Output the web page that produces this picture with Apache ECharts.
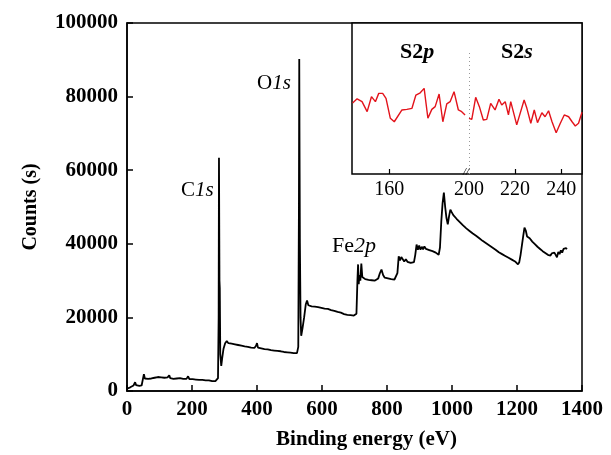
<!DOCTYPE html>
<html><head><meta charset="utf-8">
<script src="https://cdn.jsdelivr.net/npm/echarts@6/dist/echarts.min.js"></script>
<style>html,body{margin:0;padding:0;background:#fff}#c{width:611px;height:455px}</style>
</head><body><div id="c"></div>
<script>
// Main survey spectrum: [binding energy (eV), counts]
const surveyEnergy = [0,5,10,15,20,25,28,32,38,45,50,52,55,60,65,70,75,80,85,90,95,100,105,110,115,120,125,130,133,138,143,148,153,158,163,168,173,178,183,188,192,197,202,207,212,217,222,227,232,237,242,247,252,257,262,267,272,277,280,282,283,284.5,285.5,287,290,293,297,302,307,312,317,322,327,332,337,342,347,352,357,362,367,372,377,382,387,392,397,400,403,408,413,418,423,428,433,438,443,448,453,458,463,468,473,478,483,488,493,498,503,508,513,518,523,527,529,530,531,532,534,536,540,545,550,554,558,563,568,573,578,583,588,593,598,603,608,613,618,623,628,633,638,643,648,653,658,663,668,673,678,683,688,693,698,703,706,709,711,713,715,718,721,724,728,733,738,743,748,753,758,763,768,773,778,783,788,793,798,803,808,813,818,823,828,832,836,840,844,849,853,858,863,868,873,878,883,887,891,895,899,903,907,911,915,920,925,930,935,940,945,950,955,959,963,967,971,975,979,983,987,991,995,999,1004,1009,1014,1019,1024,1029,1034,1039,1044,1049,1054,1059,1064,1069,1074,1079,1084,1089,1094,1099,1104,1109,1114,1119,1124,1129,1134,1139,1144,1149,1154,1159,1164,1169,1174,1179,1184,1189,1194,1199,1203,1207,1211,1215,1219,1223,1227,1231,1235,1239,1243,1247,1251,1255,1259,1263,1267,1271,1275,1279,1283,1287,1291,1295,1299,1303,1307,1311,1315,1319,1323,1327,1331,1335,1339,1343,1347,1351,1354];
const surveyCounts = [600,900,1000,1100,1500,2400,1600,1300,1400,1500,1700,4600,3400,3000,3300,3100,3400,3300,3600,3500,3800,3600,3700,3500,3600,3400,3700,4300,3500,3600,3300,3500,3400,3300,3500,3200,3300,3200,3300,4000,3200,3100,3200,3000,3100,2900,3000,2900,3000,2800,2900,2800,2900,2800,2700,2800,2700,2800,3500,20000,63400,30000,28000,10000,6800,9000,11500,13000,13600,13000,12800,12900,12600,12700,12400,12500,12200,12300,12000,12100,11900,12000,11700,11800,11600,11700,12300,13000,11800,11500,11600,11300,11400,11200,11300,11000,11100,10900,11000,10800,10900,10700,10800,10500,10600,10400,10500,10300,10400,10200,10300,10100,10300,12000,50000,90200,63000,40000,20000,15000,17000,20000,23500,24600,23300,23600,23000,23300,22900,23200,22800,23000,22600,22900,22400,22700,22300,22500,22000,22300,21800,22000,21500,21800,21300,21500,20900,21200,20700,21000,20600,21000,20500,20700,21000,30000,34400,29000,31500,30000,34600,31000,30800,30400,30700,30200,30500,30100,30400,30000,30300,30600,32000,33000,31500,30800,31000,30600,30700,30400,30600,30300,30600,32000,36600,35500,36400,36000,35200,35800,35100,35500,34800,35200,35000,37000,39800,38400,39500,38400,39200,38500,39300,38600,39000,38300,38800,38000,38400,37600,37800,37000,39000,46000,51000,53900,50000,47000,45300,47500,49300,48600,47800,47500,46800,46600,45900,45700,45000,44800,44200,43800,43500,43100,42800,42400,42200,41700,41500,41000,40800,40400,40200,39800,39600,39100,39000,38500,38400,37900,37700,37300,37200,36800,36700,36300,36200,35800,35700,35300,35200,34800,34400,35000,37000,39500,42000,44400,43600,42000,42300,41500,41300,40600,40500,39900,39800,39200,39100,38600,38400,38000,37900,37500,37600,37000,37300,36800,37400,36900,37600,37000,36300,37800,37200,38200,37600,38600,38100,38800,38600];

// Inset: S2p region (left) and S2s region (right), relative intensity
const s2pEnergy = [141.3,143.6,146.1,148.7,150.9,152.9,154.6,156.6,158.3,160.5,162.5,166.4,168.9,171.5,173.5,175.7,177.7,179.6,181.6,183.3,185.3,187.2,189.2,190.9,192.9,195.1,196.8,198.5];
const s2pCounts = [47.0,49.8,47.9,41.3,51.2,47.9,53.4,53.4,50.1,36.9,34.6,42.4,42.8,43.5,52.3,53.8,56.7,36.9,42.8,44.6,53.0,34.6,46.4,47.9,54.5,42.4,41.3,39.1];
const s2sEnergy = [200.0,201.2,202.9,204.5,206.2,207.7,209.4,211.3,213.0,214.2,215.7,217.1,218.1,220.7,223.9,225.1,226.8,228.3,229.7,231.6,233.0,234.5,236.0,237.8,239.6,241.3,243.2,244.7,246.1,247.5,249.0];
const s2sCounts = [36.9,36.2,50.8,44.6,35.8,36.2,46.8,42.4,49.5,45.7,47.9,39.1,47.9,32.5,49.0,43.5,33.6,42.4,34.0,40.6,37.9,41.9,34.6,27.3,33.6,39.1,37.9,34.6,31.8,33.6,40.9];

const xTicks = {min: 0, max: 1400, interval: 200};
const yTicks = {min: 0, max: 100000, interval: 20000};

const zip = (a, b) => a.map((v, i) => [v, b[i]]);
const serif = '"Liberation Serif", "Times New Roman", serif';
const plain = v => String(v);

const chart = echarts.init(document.getElementById('c'), null, {renderer: 'canvas'});
const boldLabel = {color: '#000', fontFamily: serif, fontWeight: 'bold', fontSize: 21, formatter: plain};
const normLabel = {color: '#000', fontFamily: serif, fontSize: 20, formatter: plain};
const rt = (size, bold) => ({
  n: {fontFamily: serif, fontSize: size, fontWeight: bold ? 'bold' : 'normal', fill: '#000'},
  i: {fontFamily: serif, fontSize: size, fontWeight: bold ? 'bold' : 'normal', fontStyle: 'italic', fill: '#000'}
});

chart.setOption({
  animation: false,
  backgroundColor: '#fff',
  grid: [
    {left: 127, right: 29, top: 23, bottom: 63, show: true, borderColor: '#000', borderWidth: 1.5, backgroundColor: 'transparent'},
    {left: 352, width: 230, top: 23, height: 151, show: true, borderColor: '#000', borderWidth: 1.5, backgroundColor: '#fff', z: 5},
    {left: 352, width: 116, top: 23, height: 151, z: 6},
    {left: 469, width: 113, top: 23, height: 151, z: 6}
  ],
  xAxis: [
    {gridIndex: 0, type: 'value', min: xTicks.min, max: xTicks.max, interval: xTicks.interval,
     axisLine: {lineStyle: {color: '#000', width: 1.5}}, axisTick: {inside: true, length: 6, lineStyle: {color: '#000', width: 1.5}},
     axisLabel: Object.assign({margin: 8}, boldLabel), splitLine: {show: false},
     name: 'Binding energy (eV)', nameLocation: 'middle', nameGap: 38,
     nameTextStyle: {color: '#000', fontFamily: serif, fontWeight: 'bold', fontSize: 21, padding: [0, 0, 0, 24]}},
    {gridIndex: 1, type: 'value', min: 0, max: 1, show: false},
    {gridIndex: 2, type: 'value', min: 141, max: 200, z: 7,
     axisLine: {show: false}, axisTick: {inside: true, length: 5, lineStyle: {color: '#000', width: 1.2}, customValues: [160]},
     axisLabel: Object.assign({margin: 6, customValues: [160]}, normLabel), splitLine: {show: false}},
    {gridIndex: 3, type: 'value', min: 200, max: 249, z: 7,
     axisLine: {show: false}, axisTick: {inside: true, length: 5, lineStyle: {color: '#000', width: 1.2}, customValues: [220, 240]},
     axisLabel: Object.assign({margin: 6, customValues: [200, 220, 240]}, normLabel), splitLine: {show: false}}
  ],
  yAxis: [
    {gridIndex: 0, type: 'value', min: yTicks.min, max: yTicks.max, interval: yTicks.interval,
     axisLine: {show: true, lineStyle: {color: '#000', width: 1.5}}, axisTick: {show: true, inside: true, length: 6, lineStyle: {color: '#000', width: 1.5}},
     axisLabel: Object.assign({margin: 9}, boldLabel), splitLine: {show: false},
     name: 'Counts (s)', nameLocation: 'middle', nameGap: 86,
     nameTextStyle: {color: '#000', fontFamily: serif, fontWeight: 'bold', fontSize: 20}},
    {gridIndex: 1, type: 'value', min: 0, max: 1, show: false},
    {gridIndex: 2, type: 'value', min: 0, max: 100, show: false},
    {gridIndex: 3, type: 'value', min: 0, max: 100, show: false}
  ],
  series: [
    {type: 'line', xAxisIndex: 0, yAxisIndex: 0, data: zip(surveyEnergy, surveyCounts), showSymbol: false,
     lineStyle: {color: '#000', width: 1.8}, z: 2},
    {type: 'line', xAxisIndex: 2, yAxisIndex: 2, data: zip(s2pEnergy, s2pCounts), showSymbol: false,
     lineStyle: {color: '#e3131b', width: 1.4}, z: 8},
    {type: 'line', xAxisIndex: 3, yAxisIndex: 3, data: zip(s2sEnergy, s2sCounts), showSymbol: false,
     lineStyle: {color: '#e3131b', width: 1.4}, z: 8,
     markLine: {silent: true, symbol: 'none', label: {show: false},
       lineStyle: {color: '#999', type: [1, 3], width: 1},
       data: [[{coord: [200, 0]}, {coord: [200, 81]}]]}}
  ],
  graphic: [
    {type: 'text', left: 181, top: 180, z: 20, style: {text: '{n|C}{i|1s}', rich: rt(21, false)}},
    {type: 'text', left: 257, top: 73, z: 20, style: {text: '{n|O}{i|1s}', rich: rt(21, false)}},
    {type: 'text', left: 332, top: 235, z: 20, style: {text: '{n|Fe}{i|2p}', rich: rt(22, false)}},
    {type: 'text', left: 400, top: 41, z: 20, style: {text: '{n|S2}{i|p}', rich: rt(22, true)}},
    {type: 'text', left: 501, top: 41, z: 20, style: {text: '{n|S2}{i|s}', rich: rt(22, true)}},
    {type: 'text', left: 463, top: 167, z: 20, style: {text: '//', fontFamily: serif, fontSize: 11, fontStyle: 'italic', fill: '#000'}}
  ]
});
</script>
</body></html>
